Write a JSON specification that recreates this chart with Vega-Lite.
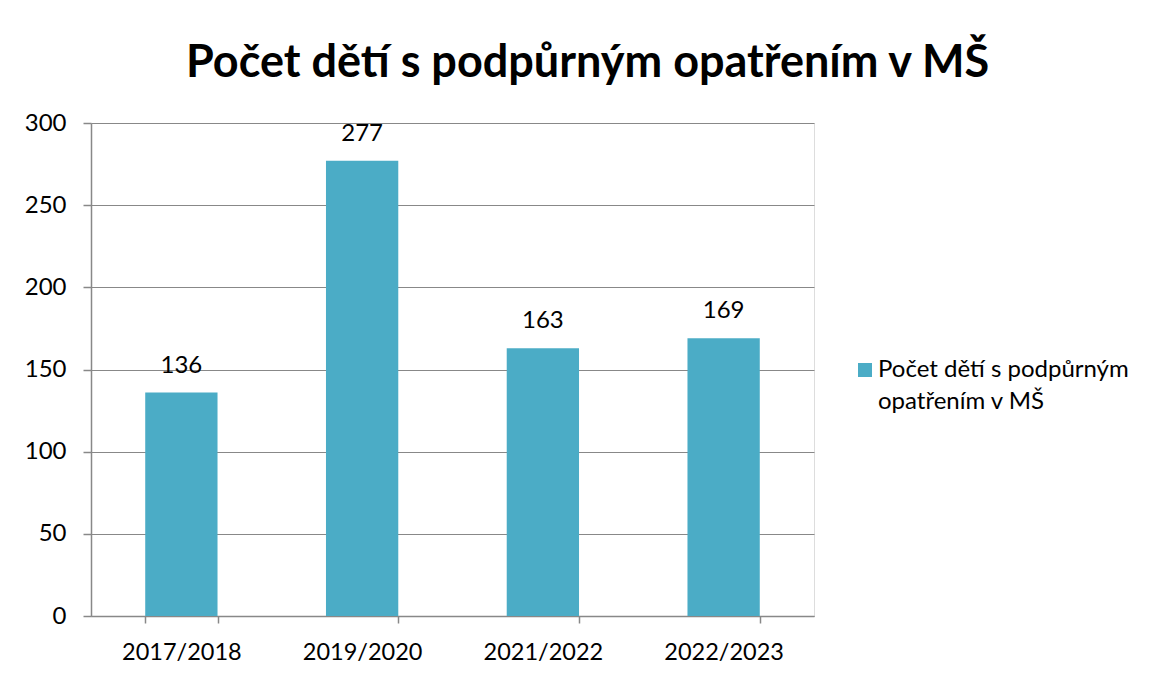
{
  "$schema": "https://vega.github.io/schema/vega-lite/v6.json",
  "autosize": "none",
  "width": 723,
  "height": 493,
  "padding": {"left": 91, "top": 123, "right": 336, "bottom": 61},
  "background": "white",
  "config": {
    "style": {"guide-label": {"lineHeight": 32}}
  },
  "title": {
    "text": "Počet dětí s podpůrným opatřením v MŠ",
    "font": "Lato",
    "fontSize": 45,
    "fontWeight": "bold",
    "color": "#000000",
    "anchor": "start",
    "frame": "group",
    "dx": 95,
    "offset": 25
  },
  "data": {
    "values": [
      {"rok": "2017/2018", "pocet": 136, "serie": "Počet dětí s podpůrným opatřením v MŠ"},
      {"rok": "2019/2020", "pocet": 277, "serie": "Počet dětí s podpůrným opatřením v MŠ"},
      {"rok": "2021/2022", "pocet": 163, "serie": "Počet dětí s podpůrným opatřením v MŠ"},
      {"rok": "2022/2023", "pocet": 169, "serie": "Počet dětí s podpůrným opatřením v MŠ"}
    ]
  },
  "encoding": {
    "x": {
      "field": "rok",
      "type": "nominal",
      "sort": null,
      "scale": {"paddingInner": 0.6, "paddingOuter": 0.3},
      "axis": {
        "title": null,
        "labelAngle": 0,
        "labelFont": "Lato",
        "labelFontSize": 23.5,
        "labelColor": "#000000",
        "labelPadding": 17,
        "domainColor": "#888888",
        "domainWidth": 1.5,
        "ticks": true,
        "tickBand": "extent",
        "tickColor": "#888888",
        "tickSize": 7,
        "tickWidth": 1.5,
        "grid": false
      }
    },
    "y": {
      "field": "pocet",
      "type": "quantitative",
      "scale": {"domain": [0, 300]},
      "axis": {
        "title": null,
        "values": [0, 50, 100, 150, 200, 250, 300],
        "labelFont": "Lato",
        "labelFontSize": 24,
        "labelColor": "#000000",
        "labelPadding": 17,
        "domainColor": "#888888",
        "domainWidth": 1.5,
        "tickColor": "#888888",
        "tickSize": 8,
        "tickWidth": 1.5,
        "gridColor": "#888888",
        "gridWidth": 1.2
      }
    }
  },
  "layer": [
    {
      "mark": {"type": "bar", "color": "#4BACC6"},
      "encoding": {
        "color": {
          "field": "serie",
          "type": "nominal",
          "scale": {"range": ["#4BACC6"]},
          "legend": {
            "title": null,
            "orient": "none",
            "legendX": 762,
            "legendY": 235,
            "symbolType": "square",
            "symbolSize": 196,
            "symbolStrokeWidth": 0,
            "labelFont": "Lato",
            "labelFontSize": 24,
            "labelColor": "#000000",
            "labelOffset": 1,
            "labelLimit": 400,
            "labelBaseline": "middle",
            "labelExpr": "['Počet dětí s podpůrným', 'opatřením v MŠ']"
          }
        }
      }
    },
    {
      "mark": {
        "type": "text",
        "baseline": "alphabetic",
        "dy": -20,
        "font": "Lato",
        "fontSize": 24,
        "color": "#000000"
      },
      "encoding": {"text": {"field": "pocet", "type": "quantitative"}}
    }
  ]
}
